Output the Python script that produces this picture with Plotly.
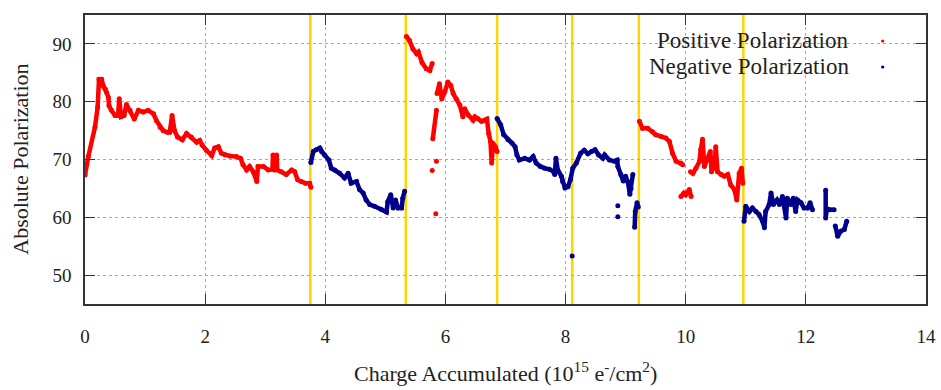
import plotly.graph_objects as go

# ---------------- data ----------------
boundaries = [3.75, 5.34, 6.86, 8.11, 9.22, 10.96]

x_ticks = [0, 2, 4, 6, 8, 10, 12, 14]
y_ticks = [50, 60, 70, 80, 90]

# Positive polarization (red) continuous runs
pos_a = [(0, 67.3), (0.055, 70.5), (0.166, 75.6), (0.21, 79), (0.233, 83.9), (0.277, 83.9),
         (0.305, 82.7), (0.34, 82.2), (0.36, 81.6), (0.39, 80.7), (0.40, 79.3), (0.44, 78.5),
         (0.50, 77.6), (0.55, 77.6), (0.57, 80.5), (0.60, 77.4), (0.65, 77.6), (0.69, 79.5),
         (0.75, 78.5), (0.82, 77.0), (0.89, 78.5), (0.97, 78.2), (1.05, 78.5), (1.14, 77.9),
         (1.19, 76.7), (1.25, 75.6), (1.30, 75.0), (1.37, 74.7), (1.41, 74.7), (1.45, 77.6),
         (1.49, 75.0), (1.54, 73.9), (1.62, 73.4), (1.69, 74.5), (1.77, 73.9), (1.86, 73.0),
         (1.91, 73.3), (1.95, 72.5), (2.02, 71.6), (2.11, 70.7), (2.16, 72.0), (2.22, 72.2),
         (2.27, 71.1), (2.33, 70.8), (2.41, 70.6), (2.52, 70.5), (2.59, 70.2), (2.63, 69.1),
         (2.69, 68.2), (2.74, 68.8), (2.80, 67.9), (2.86, 66.2), (2.88, 68.8), (2.97, 68.8),
         (3.05, 68.2), (3.12, 68.3), (3.13, 70.8), (3.15, 68.2), (3.19, 70.8), (3.20, 68.2),
         (3.27, 67.9), (3.35, 67.4), (3.44, 68.2), (3.49, 67.9), (3.54, 66.5), (3.60, 66.2),
         (3.67, 65.9), (3.74, 65.9), (3.76, 65.2)]
pos_b = [(5.35, 91.3), (5.40, 90.6), (5.46, 89.1), (5.52, 88.3), (5.55, 88.6), (5.61, 86.8),
         (5.68, 85.7), (5.74, 85.4), (5.78, 86.6)]
pos_c = [(5.79, 73.6), (5.85, 78.5)]
pos_d = [(5.86, 81.4), (5.90, 83.1), (5.94, 80.5), (5.99, 81.7), (6.04, 83.4), (6.09, 82.8),
         (6.13, 81.4), (6.18, 80.5), (6.24, 79.4), (6.29, 77.4), (6.32, 78.8), (6.38, 77.7),
         (6.46, 76.8), (6.49, 77.4), (6.54, 77.1), (6.60, 76.6), (6.65, 76.8), (6.69, 77.0),
         (6.72, 74.5), (6.75, 73.1), (6.77, 69.4), (6.79, 72.8), (6.83, 72.2), (6.86, 71.4)]
pos_e = [(9.23, 76.6), (9.28, 75.4), (9.37, 75.4), (9.45, 74.8), (9.50, 74.3), (9.59, 74.0),
         (9.67, 73.7), (9.73, 73.1), (9.78, 71.1), (9.84, 69.7), (9.92, 69.4), (9.95, 69.1)]
pos_f = [(9.92, 63.6), (9.97, 64.2), (10.0, 63.9), (10.06, 64.8), (10.09, 63.6)]
pos_g = [(10.08, 67.9), (10.12, 67.6), (10.17, 68.5), (10.23, 69.7), (10.25, 71.7), (10.28, 73.5),
         (10.31, 68.8), (10.36, 70.2), (10.41, 71.4), (10.43, 67.9), (10.48, 68.8), (10.50, 72.2),
         (10.53, 67.9), (10.59, 67.4), (10.64, 67.1), (10.70, 67.4), (10.75, 65.6), (10.81, 64.8),
         (10.85, 63.0), (10.89, 67.6), (10.93, 68.5), (10.95, 65.9)]
pos_isolated = [(5.78, 68.1), (5.85, 69.7), (5.84, 60.6)]

# Negative polarization (blue) continuous runs
neg_a = [(3.76, 69.5), (3.80, 71.4), (3.85, 71.7), (3.91, 72.0), (3.94, 71.4), (3.99, 70.8),
         (4.06, 69.9), (4.10, 68.5), (4.16, 68.2), (4.24, 67.6), (4.32, 66.8), (4.38, 67.6),
         (4.43, 65.9), (4.52, 66.2), (4.57, 64.8), (4.63, 64.2), (4.68, 63.0), (4.74, 62.2),
         (4.82, 61.9), (4.93, 61.4), (5.02, 60.9), (5.04, 62.7), (5.09, 63.9), (5.13, 61.6),
         (5.17, 63.0), (5.21, 61.6), (5.27, 61.6), (5.29, 63.3), (5.32, 64.5)]
neg_b = [(6.86, 77.1), (6.92, 76.0), (6.97, 74.3), (7.04, 73.4), (7.11, 72.8), (7.16, 72.2),
         (7.19, 70.8), (7.23, 69.9), (7.32, 70.2), (7.40, 69.9), (7.46, 70.5), (7.51, 69.4),
         (7.58, 68.8), (7.65, 68.5), (7.73, 68.3), (7.80, 67.9), (7.82, 67.4), (7.84, 70.2),
         (7.87, 68.2), (7.93, 67.1), (7.95, 66.2), (7.99, 65.1), (8.04, 65.3), (8.08, 66.5),
         (8.12, 68.5), (8.18, 69.4), (8.25, 71.1), (8.31, 71.6), (8.37, 71.0), (8.43, 71.4),
         (8.49, 71.7), (8.55, 70.8), (8.62, 70.2), (8.65, 70.8), (8.73, 69.9), (8.81, 69.7),
         (8.86, 69.9), (8.87, 68.8), (8.92, 67.4), (8.96, 66.3), (9.00, 67.1), (9.04, 66.0),
         (9.07, 64.0), (9.09, 65.0), (9.12, 67.4)]
neg_c = [(9.15, 58.3), (9.16, 61.0), (9.19, 62.5), (9.21, 61.8)]
neg_d = [(10.97, 59.3), (11.0, 61.9), (11.06, 61.0), (11.11, 61.6), (11.17, 61.0), (11.22, 60.5),
         (11.28, 59.3), (11.31, 58.2), (11.33, 61.0), (11.39, 62.2), (11.42, 64.2), (11.46, 62.2),
         (11.52, 63.0), (11.56, 62.2), (11.61, 63.6), (11.67, 59.9), (11.69, 63.3), (11.75, 62.2),
         (11.79, 63.3), (11.83, 61.0), (11.86, 63.0), (11.92, 62.5), (11.97, 61.6), (12.03, 61.6),
         (12.07, 62.5), (12.11, 61.3)]
neg_e = [(12.33, 64.7), (12.33, 59.9), (12.35, 61.5), (12.40, 61.3), (12.47, 61.3)]
neg_f = [(12.49, 58.5), (12.53, 56.7), (12.58, 57.6), (12.64, 57.9), (12.68, 59.3)]
neg_isolated = [(8.87, 62.0), (8.87, 60.1), (8.11, 53.3)]

pos_runs = [pos_a, pos_b, pos_c, pos_d, pos_e, pos_f, pos_g]
neg_runs = [neg_a, neg_b, neg_c, neg_d, neg_e, neg_f]

RED = "#ff0000"
BLUE = "#00008b"
YELLOW = "#ffd400"
FONT = "Liberation Serif, Times New Roman, serif"
TXT = "#222222"


def join_runs(runs):
    xs, ys = [], []
    for r in runs:
        xs += [p[0] for p in r] + [None]
        ys += [p[1] for p in r] + [None]
    return xs, ys


fig = go.Figure()

px_, py_ = join_runs(pos_runs)
nx_, ny_ = join_runs(neg_runs)

fig.add_trace(go.Scatter(x=px_, y=py_, mode="lines+markers",
                         line=dict(color=RED, width=4.5), marker=dict(color=RED, size=5),
                         showlegend=False, connectgaps=False))
fig.add_trace(go.Scatter(x=[p[0] for p in pos_isolated], y=[p[1] for p in pos_isolated],
                         mode="markers", marker=dict(color=RED, size=5), showlegend=False))
fig.add_trace(go.Scatter(x=nx_, y=ny_, mode="lines+markers",
                         line=dict(color=BLUE, width=4.5), marker=dict(color=BLUE, size=5),
                         showlegend=False, connectgaps=False))
fig.add_trace(go.Scatter(x=[p[0] for p in neg_isolated], y=[p[1] for p in neg_isolated],
                         mode="markers", marker=dict(color=BLUE, size=5), showlegend=False))

shapes = []
for b in boundaries:
    shapes.append(dict(type="line", xref="x", yref="paper", x0=b, x1=b, y0=0, y1=1,
                       line=dict(color=YELLOW, width=2.5), layer="between"))

# legend markers (small dots to the right of the legend labels)
for yy, col in [(0.91, RED), (0.82, BLUE)]:
    shapes.append(dict(type="circle", xref="paper", yref="paper",
                       x0=0.9465, x1=0.9505, y0=yy - 0.0055, y1=yy + 0.0055,
                       fillcolor=col, line=dict(color=col, width=0)))

annotations = [
    dict(text="Positive Polarization", xref="paper", yref="paper", x=0.911, y=0.911,
         xanchor="right", yanchor="middle", showarrow=False,
         font=dict(family=FONT, size=23, color=TXT)),
    dict(text="Negative Polarization", xref="paper", yref="paper", x=0.911, y=0.821,
         xanchor="right", yanchor="middle", showarrow=False,
         font=dict(family=FONT, size=23, color=TXT)),
    dict(text="Charge Accumulated (10<sup>15</sup> e<sup>-</sup>/cm<sup>2</sup>)",
         xref="paper", yref="paper", x=0.5, y=-0.235, xanchor="center", yanchor="middle",
         showarrow=False, font=dict(family=FONT, size=22, color=TXT)),
    dict(text="Absolute Polarization", xref="paper", yref="paper", x=-0.077, y=0.5,
         xanchor="center", yanchor="middle", textangle=-90, showarrow=False,
         font=dict(family=FONT, size=22, color=TXT)),
]

axis_common = dict(showline=True, linecolor="#333", linewidth=1.5, mirror="allticks",
                   ticks="inside", ticklen=10, tickwidth=1.3, tickcolor="#333",
                   showgrid=True, gridcolor="#a8a8a8", griddash="dot", gridwidth=1,
                   zeroline=False, automargin=False,
                   tickfont=dict(family=FONT, size=19, color=TXT))

fig.update_layout(
    width=941, height=390,
    margin=dict(l=85, r=15, t=15, b=86),
    font=dict(family=FONT, size=19, color=TXT),
    plot_bgcolor="white", paper_bgcolor="white",
    xaxis=dict(range=[0, 14], tickvals=x_ticks, ticklabelstandoff=14, **axis_common),
    yaxis=dict(range=[45, 95], tickvals=y_ticks, ticklabelstandoff=8, **axis_common),
    shapes=shapes, annotations=annotations,
)

fig.write_html("out.html", config={"displayModeBar": False},
               post_script="document.body.style.margin='0';document.body.style.overflow='hidden';")
